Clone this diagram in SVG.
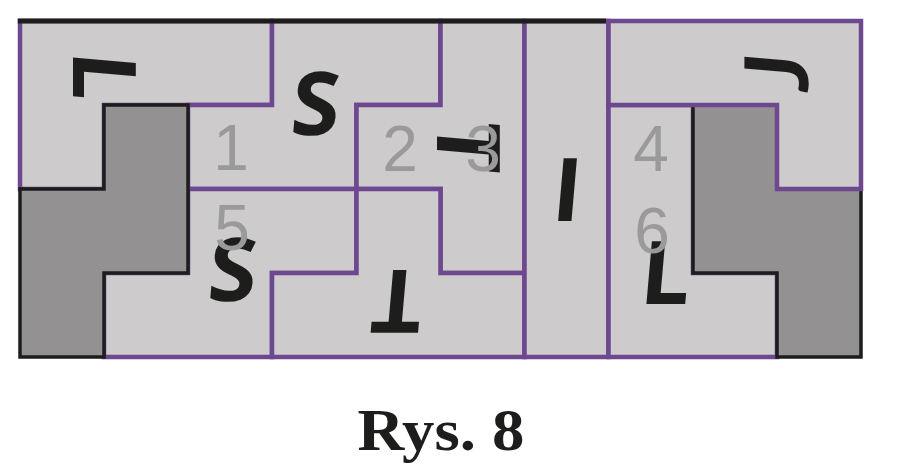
<svg xmlns="http://www.w3.org/2000/svg" width="900" height="473" viewBox="0 0 900 473">
<style>
.lt{fill:#cdcbcc;stroke:#6d478f;stroke-width:4.5;stroke-linejoin:miter}
.dk{fill:#939192;stroke:#1d1d1b;stroke-width:3.5;stroke-linejoin:miter}
.sym{font-family:"Open Sans","DejaVu Sans",sans-serif;font-weight:bold;font-size:88px;fill:#1d1d1b;text-anchor:middle}
.symj{font-family:Lato,"Open Sans",sans-serif;font-weight:bold;font-size:88px;fill:#1d1d1b;text-anchor:middle}
.num{font-family:"Liberation Sans",Arial,sans-serif;font-size:64px;fill:#9b9a9b;text-anchor:middle}
.cap{font-family:"Liberation Serif","Times New Roman",serif;font-weight:bold;font-size:60px;fill:#1d1d1b;text-anchor:middle}
</style>
<rect width="900" height="473" fill="#ffffff"/>
<g id="piece-L-topleft">
<path class="lt" d="M20,21 H272 V105 H104 V189 H20 Z"/>
<text class="sym" transform="translate(104,77) rotate(90) skewX(-5)" y="31">L</text>
</g>
<g id="piece-S-1">
<path class="lt" d="M272,21 H440.5 V105 H356.5 V189 H188 V105 H272 Z"/>
<text class="sym" transform="translate(316,104) skewX(-5)" y="31">S</text>
</g>
<g id="piece-T-23">
<path class="lt" d="M440.5,21 H524.5 V273 H440.5 V189 H356.5 V105 H440.5 Z"/>
<text class="sym" transform="translate(468,146) rotate(90) skewX(-5)" y="31">T</text>
</g>
<g id="piece-S-5">
<path class="lt" d="M188,189 H356.5 V273 H272 V357 H104 V273 H188 Z"/>
<text class="sym" transform="translate(233,270) skewX(-5)" y="31">S</text>
</g>
<g id="piece-T-bottom">
<path class="lt" d="M356.5,189 H440.5 V273 H524.5 V357 H272 V273 H356.5 Z"/>
<text class="sym" transform="translate(397,301) rotate(180) skewX(-5)" y="31">T</text>
</g>
<g id="piece-I">
<path class="lt" d="M524.5,21 H608.5 V357 H524.5 Z"/>
<text class="sym" transform="translate(567.5,190) skewX(-5)" y="31">I</text>
</g>
<g id="piece-L-46">
<path class="lt" d="M608.5,105 H693 V273 H777 V357 H608.5 Z"/>
<text class="sym" transform="translate(666,273) skewX(-5)" y="31">L</text>
</g>
<g id="dark-left">
<path class="dk" d="M104,105 H188 V273 H104 V357 H20 V189 H104 Z"/>
</g>
<g id="dark-right">
<path class="dk" d="M693,105 H777 V189 H861 V357 H777 V273 H693 Z"/>
</g>
<g id="top-edge">
<line x1="17.8" y1="21" x2="606" y2="21" stroke="#1d1d1b" stroke-width="5"/>
</g>
<g id="piece-J-topright">
<path class="lt" d="M608.5,21 H861 V189 H777 V105 H608.5 Z"/>
<text class="symj" transform="translate(777,72) rotate(-90) skewX(-5)" y="31">J</text>
</g>
<g id="labels">
<text class="num" x="231" y="170">1</text>
<text class="num" x="400" y="171">2</text>
<text class="num" x="483" y="171">3</text>
<text class="num" x="651" y="171">4</text>
<text class="num" x="232" y="250">5</text>
<text class="num" x="652" y="253">6</text>
</g>
<text class="cap" x="441" y="450" textLength="167" lengthAdjust="spacingAndGlyphs">Rys. 8</text>
</svg>
